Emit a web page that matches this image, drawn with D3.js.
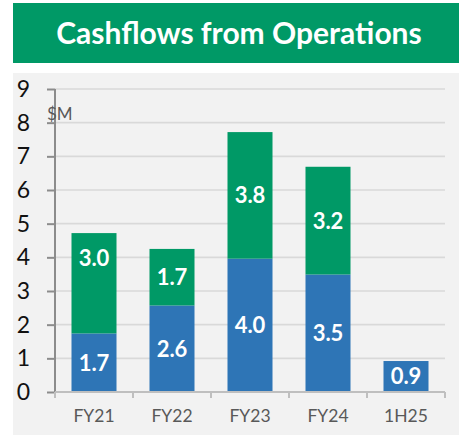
<!DOCTYPE html>
<html><head><meta charset="utf-8">
<script src="https://cdn.jsdelivr.net/npm/d3@7"></script>
<style>
html,body{margin:0;padding:0;background:#fff;}
svg{display:block;}
</style></head>
<body>
<svg id="c" width="459" height="435"></svg>
<script>
// ---- data ----
const title = "Cashflows from Operations";
const unitLabel = "$M";
const categories = ["FY21", "FY22", "FY23", "FY24", "1H25"];
const blueValues = [1.74, 2.57, 3.96, 3.49, 0.92];
const greenValues = [2.98, 1.68, 3.76, 3.20, 0];
const greenLabelShift = [0.75, 0, 0, 0, 0]; // label nudges (value units)
const yTicks = [0, 1, 2, 3, 4, 5, 6, 7, 8, 9];

const BLUE = "#2E75B6", GREEN = "#009966";
const font = "Lato, 'Open Sans', sans-serif";

const svg = d3.select("#c");

// title bar
svg.append("rect").attr("x", 13).attr("y", 3).attr("width", 446).attr("height", 60).attr("fill", GREEN);
svg.append("text").attr("x", 239).attr("y", 44).attr("text-anchor", "middle")
  .attr("fill", "#fff").attr("font-family", font).attr("font-weight", 700)
  .attr("font-size", 30).text(title);

// panel
svg.append("rect").attr("x", 13).attr("y", 73).attr("width", 446).attr("height", 362).attr("fill", "#F2F2F2");

const y = d3.scaleLinear().domain([0, 9]).range([392, 89]);
const x = d3.scaleBand().domain(categories).range([55, 445]).paddingInner(0.423).paddingOuter(0.2115);
const xOuter = d3.scaleBand().domain(categories).range([55, 445]).padding(0);

// gridlines
svg.append("g").selectAll("line").data(yTicks.filter(d => d > 0)).join("line")
  .attr("x1", 55).attr("x2", 445).attr("y1", d => y(d)).attr("y2", d => y(d))
  .attr("stroke", "#D9D9D9").attr("stroke-width", 1.6);

// bars
const g = svg.append("g");
categories.forEach((c, i) => {
  const b = blueValues[i], gr = greenValues[i];
  g.append("rect").attr("x", x(c)).attr("width", x.bandwidth())
    .attr("y", y(b)).attr("height", y(0) - y(b)).attr("fill", BLUE);
  if (gr > 0) {
    g.append("rect").attr("x", x(c)).attr("width", x.bandwidth())
      .attr("y", y(b + gr)).attr("height", y(b) - y(b + gr)).attr("fill", GREEN);
  }
});

// value labels
const lab = svg.append("g").attr("font-family", font).attr("font-weight", 700)
  .attr("font-size", 22).attr("fill", "#fff").attr("text-anchor", "middle");
categories.forEach((c, i) => {
  const b = blueValues[i], gr = greenValues[i];
  const cx = x(c) + x.bandwidth() / 2;
  lab.append("text").attr("x", cx).attr("y", y(b / 2)).attr("dy", "0.36em").text(b.toFixed(1));
  if (gr > 0) {
    lab.append("text").attr("x", cx).attr("y", y(b + gr / 2 + greenLabelShift[i])).attr("dy", "0.36em").text(gr.toFixed(1));
  }
});

// y axis
const yAxis = svg.append("g").attr("transform", "translate(55,0)")
  .call(d3.axisLeft(y).tickValues(yTicks).tickSize(8).tickPadding(17).tickFormat(d3.format("d")));
yAxis.select(".domain").attr("stroke", "#8C8C8C").attr("stroke-width", 2).attr("d", "M0," + y(9) + "V" + y(0));
yAxis.selectAll(".tick line").attr("stroke", "#8C8C8C").attr("stroke-width", 2);
yAxis.selectAll(".tick text").attr("font-family", font).attr("font-size", 23).attr("fill", "#111");

// x axis
const xAxis = svg.append("g").attr("transform", "translate(0," + y(0) + ")")
  .call(d3.axisBottom(x).tickSize(0).tickPadding(18));
xAxis.select(".domain").attr("stroke", "#BFBFBF").attr("stroke-width", 2).attr("d", "M55,0H445");
xAxis.selectAll(".tick text").attr("font-family", font).attr("font-size", 17.5).attr("fill", "#595959");
const bounds = categories.map(c => xOuter(c)).concat([xOuter.range()[1]]);
xAxis.selectAll("line.bd").data(bounds).join("line").attr("class", "bd")
  .attr("x1", d => d).attr("x2", d => d).attr("y1", 0).attr("y2", 6)
  .attr("stroke", "#BFBFBF").attr("stroke-width", 2);

// unit label
svg.append("text").attr("x", 47).attr("y", 120).attr("font-family", font)
  .attr("font-size", 17).attr("fill", "#595959").text(unitLabel);
</script>
</body></html>
